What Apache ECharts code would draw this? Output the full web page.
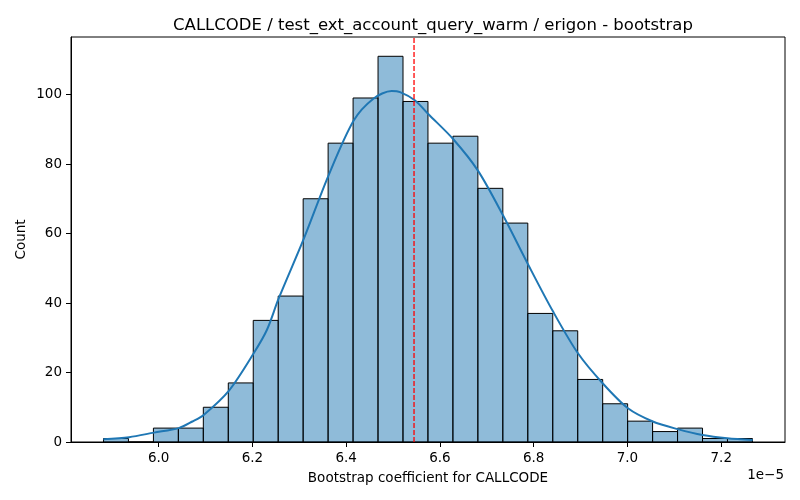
<!DOCTYPE html>
<html>
<head>
<meta charset="utf-8">
<script src="https://cdn.jsdelivr.net/npm/echarts@6/dist/echarts.min.js"></script>
<style>html,body{margin:0;padding:0;background:#fff}#c{width:800px;height:500px}</style>
</head>
<body>
<div id="c"></div>
<script>
// values in units of 1e-5
const binStart = 5.8823;
const binWidth = 0.05324;
const counts = [1, 0, 4, 4, 10, 17, 35, 42, 70, 86, 99, 111, 98, 86, 88, 73, 63, 37, 32, 18, 11, 6, 3, 4, 1, 1];
const kdeX = [5.882, 5.937, 5.990, 6.043, 6.072, 6.096, 6.150, 6.203, 6.231, 6.256, 6.309, 6.362, 6.416, 6.458, 6.497, 6.515, 6.547, 6.575, 6.628, 6.681, 6.735, 6.788, 6.841, 6.894, 6.947, 7.001, 7.054, 7.107, 7.160, 7.213, 7.267];
const kdeY = [0.8, 1.4, 2.7, 4.0, 5.9, 7.8, 14.8, 25.6, 32.3, 41.3, 58.3, 76.6, 92.5, 98.8, 101.0, 100.7, 98.3, 94.4, 87.2, 78.1, 65.1, 51.1, 37.6, 25.6, 16.9, 9.7, 5.9, 3.7, 2.0, 1.07, 0.6];
const refLine = 6.5447;
const xTicks = [6.0, 6.2, 6.4, 6.6, 6.8, 7.0, 7.2];
const yTicks = [0, 20, 40, 60, 80, 100];
const xMin = 5.813, xMax = 7.336, yMax = 116.55;

const histData = counts.map((c, i) => [binStart + i * binWidth, binStart + (i + 1) * binWidth, c]);
const kdeData = kdeX.map((x, i) => [x, kdeY[i]]);

const font = 'DejaVu Sans';
const chart = echarts.init(document.getElementById('c'));
chart.setOption({
  animation: false,
  title: {
    text: 'CALLCODE / test_ext_account_query_warm / erigon - bootstrap',
    left: 428, top: 12, textAlign: 'center',
    textStyle: { fontFamily: font, fontSize: 16.5, fontWeight: 'normal', color: '#000' }
  },
  grid: { left: 71, right: 15, top: 37, bottom: 58, show: true, borderColor: '#000', borderWidth: 1, backgroundColor: 'transparent' },
  xAxis: {
    type: 'value', min: xMin, max: xMax,
    name: 'Bootstrap coefficient for CALLCODE', nameLocation: 'middle', nameGap: 29,
    nameTextStyle: { fontFamily: font, fontSize: 13.5, color: '#000' },
    axisLine: { show: true, lineStyle: { color: '#000' } },
    axisTick: { show: true, length: 5, customValues: xTicks, lineStyle: { color: '#000' } },
    axisLabel: { customValues: xTicks, margin: 9, fontFamily: font, fontSize: 13.5, color: '#000', formatter: v => v.toFixed(1) },
    splitLine: { show: false }
  },
  yAxis: {
    type: 'value', min: 0, max: yMax,
    name: 'Count', nameLocation: 'middle', nameGap: 43, nameMoveOverlap: false,
    nameTextStyle: { fontFamily: font, fontSize: 13.5, color: '#000' },
    axisLine: { show: true, lineStyle: { color: '#000' } },
    axisTick: { show: true, length: 5, customValues: yTicks, lineStyle: { color: '#000' } },
    axisLabel: { customValues: yTicks, margin: 9, fontFamily: font, fontSize: 13.5, color: '#000' },
    splitLine: { show: false }
  },
  graphic: [{
    type: 'text', right: 16, top: 468,
    style: { text: '1e\u22125', fontFamily: font, fontSize: 13.5, fill: '#000' }
  }],
  series: [
    {
      type: 'custom',
      data: histData,
      renderItem: function (params, api) {
        const p0 = api.coord([api.value(0), api.value(2)]);
        const p1 = api.coord([api.value(1), 0]);
        return {
          type: 'rect',
          shape: { x: p0[0], y: p0[1], width: p1[0] - p0[0], height: p1[1] - p0[1] },
          style: { fill: 'rgba(31,119,180,0.5)', stroke: '#000', lineWidth: 1 }
        };
      },
      encode: { x: [0, 1], y: 2 },
      z: 2
    },
    {
      type: 'line', data: kdeData, smooth: 0.3, symbol: 'none',
      lineStyle: { color: '#1f77b4', width: 2 }, z: 3
    },
    {
      type: 'line', data: [[refLine, 0], [refLine, yMax]], symbol: 'none',
      lineStyle: { color: '#ff0000', width: 1.3, type: [5, 2] }, z: 4
    }
  ]
});
</script>
</body>
</html>
